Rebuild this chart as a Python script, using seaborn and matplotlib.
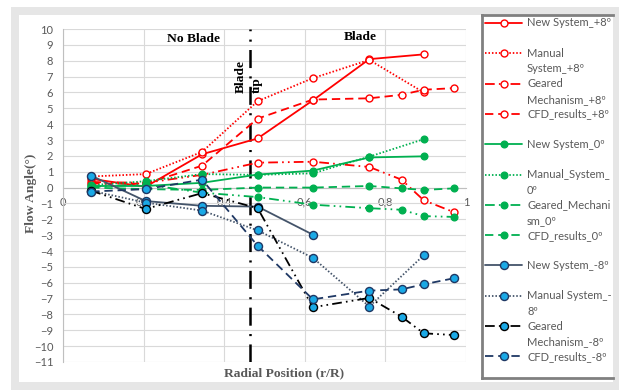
import numpy as np
import pandas as pd
import matplotlib
matplotlib.use("Agg")
import matplotlib.pyplot as plt
from matplotlib.patches import Rectangle
import seaborn as sns

# radial positions (r/R)
x_full = [0.07, 0.205, 0.345, 0.483, 0.62, 0.76, 0.84, 0.895, 0.97]
x_sys = [0.07, 0.205, 0.345, 0.483, 0.62, 0.76, 0.895]
x_new_m8 = [0.07, 0.205, 0.345, 0.483, 0.62]

# flow angles (deg)
new_p8 = [0.55, 0.05, 2.1, 3.1, 5.5, 8.1, 8.4]
man_p8 = [0.7, 0.85, 2.25, 5.45, 6.9, 8.05, 6.0]
gear_p8 = [0.35, 0.3, 0.8, 1.57, 1.63, 1.3, 0.5, -0.8, -1.55]
cfd_p8 = [0.25, 0.25, 1.38, 4.35, 5.55, 5.63, 5.85, 6.17, 6.27]

new_0 = [0.1, 0.1, 0.3, 0.82, 1.07, 1.9, 1.97]
man_0 = [0.15, 0.4, 0.85, 0.8, 0.9, 1.95, 3.05]
gear_0 = [0.05, 0.2, -0.32, -0.6, -1.08, -1.3, -1.4, -1.8, -1.85]
cfd_0 = [0.0, -0.1, -0.15, 0.0, 0.0, 0.1, -0.05, -0.15, -0.05]

new_m8 = [0.75, -0.85, -1.15, -1.2, -2.97]
man_m8 = [-0.2, -0.95, -1.45, -2.7, -4.43, -7.5, -4.27]
gear_m8 = [-0.2, -1.35, -0.35, -1.3, -7.55, -6.96, -8.14, -9.19, -9.3]
cfd_m8 = [-0.25, -0.1, 0.5, -3.67, -7.05, -6.5, -6.42, -6.1, -5.72]

labels = ["New System_+8º", "Manual\nSystem_+8º", "Geared\nMechanism_+8º", "CFD_results_+8º",
          "New System_0º", "Manual_System_\n0º", "Geared_Mechani\nsm_0º", "CFD_results_0º",
          "New System_-8º", "Manual System_-\n8º", "Geared\nMechanism_-8º", "CFD_results_-8º"]

xticks = [0, 0.2, 0.4, 0.6, 0.8, 1]
xtick_labels = ["0", "0,2", "0,4", "0,6", "0,8", "1"]
yticks = list(range(-11, 11))
blade_tip_x = 0.464

sns.set_style("white")
plt.rcParams['font.family'] = ['Lato', 'DejaVu Sans']
plt.rcParams['lines.scale_dashes'] = False

RED = "#ff0000"
GREEN = "#00b050"
SKY = "#1aa9e6"
EDGE_B = "#1f3864"

solid = "-"
dotted = (0, (1.1, 1.4))
dashed = (0, (6, 3.5))
dashdotdot = (0, (7, 3, 1.2, 3, 1.2, 3))

# (x, y, line colour, linestyle, marker face, marker edge, marker size)
series = [
    (x_sys, new_p8, RED, solid, "white", RED, 5),
    (x_sys, man_p8, RED, dotted, "white", RED, 5),
    (x_full, gear_p8, RED, dashdotdot, "white", RED, 5),
    (x_full, cfd_p8, RED, dashed, "white", RED, 5),
    (x_sys, new_0, GREEN, solid, GREEN, GREEN, 4.8),
    (x_sys, man_0, GREEN, dotted, GREEN, GREEN, 4.8),
    (x_full, gear_0, GREEN, dashdotdot, GREEN, GREEN, 4.8),
    (x_full, cfd_0, GREEN, dashed, GREEN, GREEN, 4.8),
    (x_new_m8, new_m8, "#44546a", solid, SKY, EDGE_B, 5.8),
    (x_sys, man_m8, "#44546a", dotted, SKY, EDGE_B, 5.8),
    (x_full, gear_m8, "black", dashdotdot, SKY, "black", 5.8),
    (x_full, cfd_m8, EDGE_B, dashed, SKY, EDGE_B, 5.8),
]

fig = plt.figure(figsize=(6.19, 3.9), dpi=100)
W, H = 619, 390

# chart frame
fig.add_artist(Rectangle((11 / W, 0), 1, 1 - 7 / H, transform=fig.transFigure,
                         facecolor="#e6e6e6", edgecolor="none", zorder=0))
fig.add_artist(Rectangle((19 / W, 1 - 382 / H), (613 - 19) / W, (382 - 15) / H,
                         transform=fig.transFigure, facecolor="white", edgecolor="none", zorder=0))

ax = fig.add_axes([63 / W, 1 - 362 / H, 403 / W, 333 / H])
ax.set_facecolor("white")

for i, (xs, ys, col, ls, mfc, mec, ms) in enumerate(series):
    sns.lineplot(x=xs, y=ys, ax=ax, color=col, linestyle=ls, linewidth=1.3,
                 marker="o", markersize=ms, markerfacecolor=mfc, markeredgecolor=mec,
                 markeredgewidth=1.0, sort=False, errorbar=None, legend=False, zorder=3 + i * 0.1)

ax.axvline(blade_tip_x, color="black", linewidth=1.8, linestyle=(0, (13, 6, 1.5, 6)), zorder=2.5)

ax.set_xlim(0, 1)
ax.set_ylim(-11, 10)
ax.set_xticks(xticks)
ax.set_xticklabels(xtick_labels)
ax.set_yticks(yticks)
ax.grid(True, color="#d9d9d9", linewidth=0.8, zorder=0)
ax.set_axisbelow(True)
for s in ["top", "right"]:
    ax.spines[s].set_visible(False)
ax.spines["bottom"].set_position(("data", 0))
ax.spines["bottom"].set_color("#bfbfbf")
ax.spines["left"].set_color("#bfbfbf")
ax.spines["bottom"].set_zorder(1)
ax.tick_params(axis="both", length=0, labelsize=8, labelcolor="#595959")
ax.tick_params(axis="x", pad=6.5)
ax.tick_params(axis="y", pad=7)

serif = ["Liberation Serif", "DejaVu Serif"]
ax.set_xlabel("Radial Position (r/R)", family=serif, fontweight="bold", fontsize=9.7, color="#595959")
ax.xaxis.set_label_coords((284 - 63) / 403, (362 - 373) / 333)
ax.xaxis.label.set_va("center")
ax.set_ylabel("Flow Angle(°)", family=serif, fontweight="bold", fontsize=9.7, color="#595959")
ax.yaxis.set_label_coords((31 - 63) / 403, (362 - 193) / 333)
ax.yaxis.label.set_va("center")

ax.text(0.325, 9.4, "No Blade", family=serif, fontweight="bold", fontsize=9.7,
        ha="center", va="center", color="black")
ax.text(0.737, 9.5, "Blade", family=serif, fontweight="bold", fontsize=9.7,
        ha="center", va="center", color="black")
ax.text(blade_tip_x - 0.004, 7.0, "Blade\ntip", family=serif, fontweight="bold", fontsize=9.7,
        rotation=90, ha="center", va="center", multialignment="left", color="black",
        linespacing=1.45, zorder=4)

# legend box drawn by hand so the handle sits on the first text line
lg = fig.add_axes([482 / W, 1 - 378 / H, (613 - 482) / W, (378 - 15) / H])
lg.set_xlim(0, 131)
lg.set_ylim(363, 0)
lg.set_xticks([])
lg.set_yticks([])
lg.set_facecolor("white")
for s in ["left", "top", "bottom"]:
    lg.spines[s].set_color("#808080")
    lg.spines[s].set_linewidth(2.0)
lg.spines["right"].set_visible(False)

for i, (lab, (xs, ys, col, ls, mfc, mec, ms)) in enumerate(zip(labels, series)):
    yy = 8 + 30.3 * i
    lg.plot([3, 40], [yy, yy], color=col, linestyle=ls, linewidth=1.3)
    lg.plot([21.5], [yy], marker="o", markersize=ms, markerfacecolor=mfc,
            markeredgecolor=mec, markeredgewidth=1.0, linestyle="none")
    for j, part in enumerate(lab.split("\n")):
        lg.text(45, yy + 15.5 * j, part, fontsize=8, color="#595959", va="center",
                ha="left", clip_on=True)

fig.savefig("out.png", dpi=100)
